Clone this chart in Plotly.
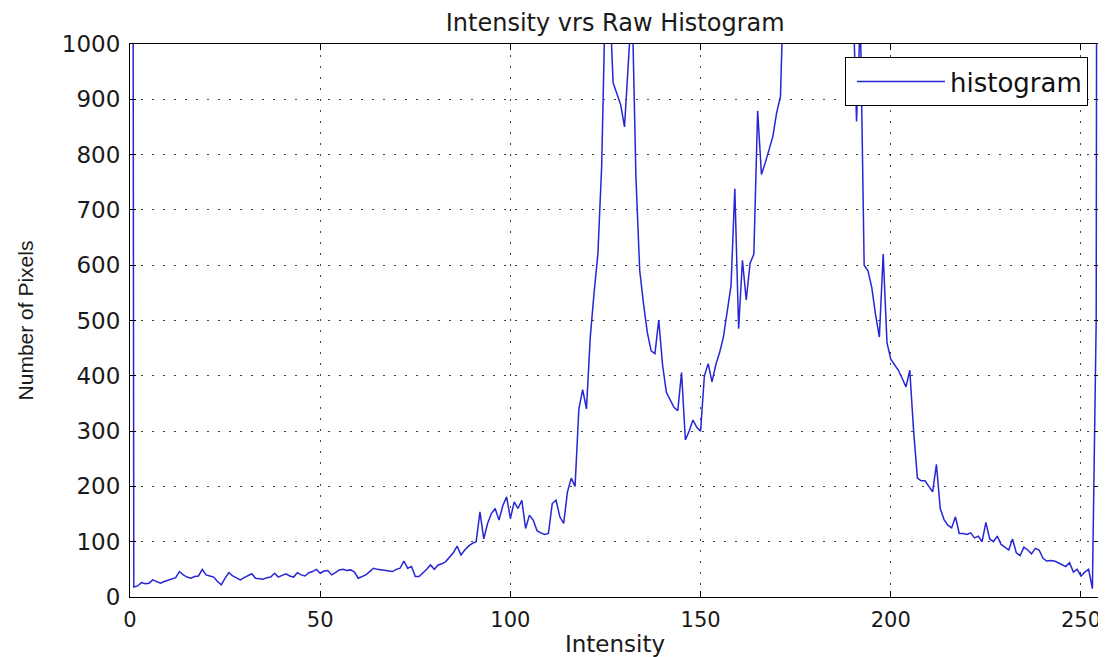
import plotly.graph_objects as go

# Intensity bins 0..255
intensity = list(range(256))

# Pixel counts (values > 1000 are clipped in the view)
counts_0_55 = [6000, 18, 20, 26, 24, 25, 31, 28, 25, 28, 30, 33, 35, 46, 40, 36,
               34, 37, 38, 50, 40, 38, 36, 28, 22, 34, 44, 38, 35, 31, 35, 38,
               42, 34, 33, 32, 35, 36, 43, 36, 39, 42, 38, 36, 44, 40, 38, 44,
               46, 50, 43, 47, 48, 40, 44, 49]
counts_56_110 = [50, 48, 49, 45, 34, 37, 40, 46, 52, 50, 49, 48, 47, 46, 50, 52,
                 65, 52, 55, 37, 37, 43, 50, 58, 50, 58, 60, 64, 73, 80, 92, 76,
                 85, 92, 97, 100, 154, 105, 133, 151, 160, 139, 165, 181, 142, 172,
                 160, 175, 124, 148, 139, 120, 116, 113, 115]
counts_111_171 = [169, 175, 145, 133, 190, 215, 200, 340, 375, 340, 470, 550, 620,
                  780, 1100, 1100, 930, 910, 890, 850, 960, 1080, 760, 590, 530,
                  478, 445, 440, 501, 420, 370, 355, 343, 337, 406, 284, 300, 320,
                  307, 300, 400, 422, 389, 420, 442, 470, 517, 563, 738, 485, 609,
                  537, 603, 620, 879, 764, 785, 810, 833, 876, 905]
counts_172_213 = [1150, 1300, 1500, 1700, 1900, 2100, 2250, 2350, 2400, 2350, 2250,
                  2100, 1900, 1700, 1500, 1350, 1250, 1150, 1100, 860, 1050, 600,
                  590, 560, 510, 470, 620, 460, 430, 420, 410, 395, 380, 410, 300,
                  215, 210, 210, 200, 190, 240, 160]
counts_214_255 = [140, 130, 125, 145, 115, 115, 113, 116, 107, 110, 100, 135, 105,
                  100, 110, 95, 90, 85, 105, 80, 75, 90, 85, 78, 88, 85, 70, 65, 66,
                  65, 62, 58, 55, 62, 45, 50, 38, 45, 50, 15, 500, 6000]

counts = counts_0_55 + counts_56_110 + counts_111_171 + counts_172_213 + counts_214_255

x_ticks = [0, 50, 100, 150, 200, 250]
y_ticks = [0, 100, 200, 300, 400, 500, 600, 700, 800, 900, 1000]

wide = "DejaVu Sans, Verdana, sans-serif"
plain = "Liberation Sans, Arial, sans-serif"

fig = go.Figure()
fig.add_trace(go.Scatter(
    x=intensity, y=counts, mode="lines", name="histogram",
    line=dict(color="rgb(38,38,212)", width=1.5),
))

axis_common = dict(
    showline=True, linecolor="black", linewidth=1.2, mirror="ticks",
    ticks="inside", ticklen=6, tickcolor="black",
    showgrid=True, gridcolor="rgba(0,0,0,0.75)", gridwidth=1, griddash="2px,9px",
    zeroline=False, ticklabelstandoff=4,
)

fig.update_layout(
    width=1098, height=649,
    margin=dict(l=122, r=6, t=36, b=60, autoexpand=False),
    paper_bgcolor="white", plot_bgcolor="white",
    title=dict(text="Intensity vrs Raw Histogram", x=0.553, xanchor="center",
               y=1 - 15 / 649, yanchor="middle",
               font=dict(family=wide, size=24, color="#1a1a1a")),
    xaxis=dict(range=[0, 255], tickvals=x_ticks,
               tickfont=dict(family=wide, size=21, color="#1a1a1a"),
               title=dict(text="Intensity", standoff=5,
                          font=dict(family=wide, size=23, color="#1a1a1a")),
               **axis_common),
    yaxis=dict(range=[0, 1000], tickvals=y_ticks,
               tickfont=dict(family=wide, size=23, color="#1a1a1a"),
               title=dict(text="Number of Pixels", standoff=22,
                          font=dict(family=plain, size=21, color="#1a1a1a")),
               **axis_common),
    showlegend=True,
    legend=dict(x=0.9876, y=0.9765, xanchor="right", yanchor="top",
                bgcolor="white", bordercolor="black", borderwidth=1,
                itemwidth=88, indentation=6,
                font=dict(family=wide, size=26, color="#111")),
)

fig.write_html("out.html")
